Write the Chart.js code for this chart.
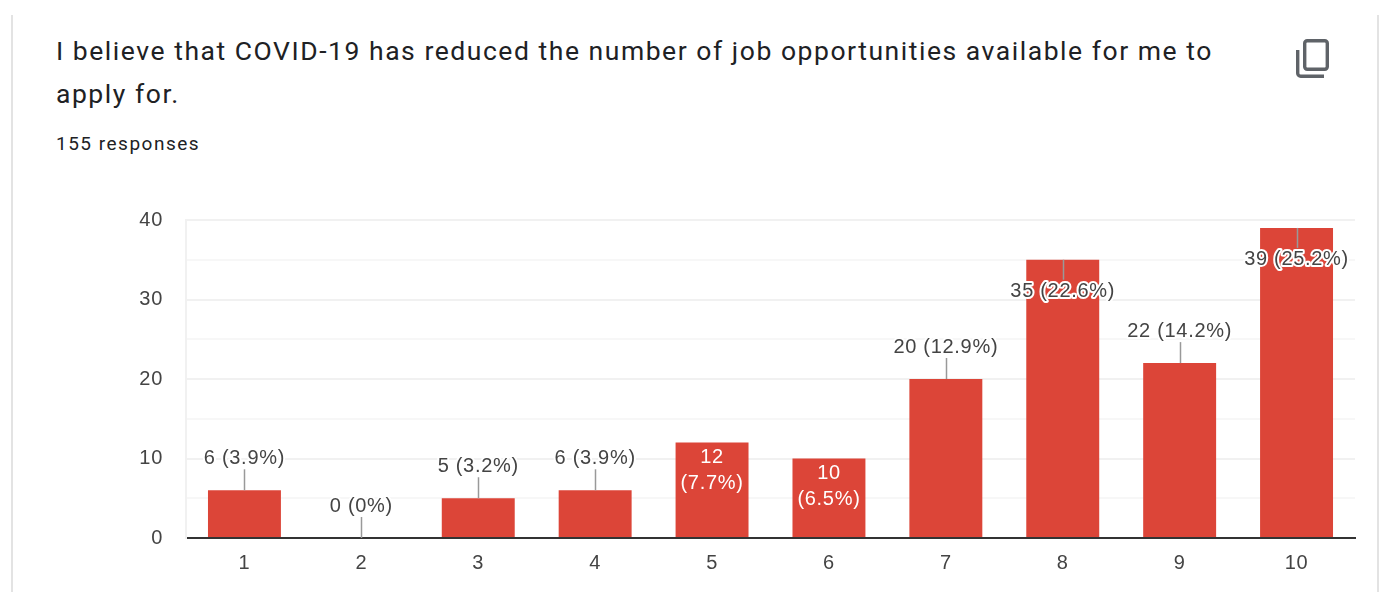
<!DOCTYPE html>
<html>
<head>
<meta charset="utf-8">
<title>COVID-19 job opportunities</title>
<script src="https://cdn.jsdelivr.net/npm/chart.js@4"></script>
<style>
  html, body { margin: 0; padding: 0; background: #fff; overflow: hidden; }
  #page { position: relative; width: 1381px; height: 592px; font-family: Roboto, sans-serif; color: #202124; }
  #card { position: absolute; left: 11px; top: 15px; width: 1364px; height: 577px; border-left: 2px solid #e3e3e3; border-right: 2px solid #e3e3e3; }
  #question { position: absolute; left: 56px; top: 29px; width: 1175px; font-size: 26.5px; line-height: 43px; letter-spacing: 1.54px; }
  #count { position: absolute; left: 56px; top: 132px; font-size: 19px; line-height: 24px; letter-spacing: 1.5px; }
  #copy { position: absolute; left: 1293px; top: 38px; }
  #chart { position: absolute; left: 0; top: 0; }
</style>
</head>
<body>
<div id="page">
  <div id="card"></div>
  <div id="question">I believe that COVID-19 has reduced the number of job opportunities available for me to apply for.</div>
  <div id="count">155 responses</div>
  <svg id="copy" width="40" height="42" viewBox="0 0 40 42" fill="none" stroke="#5f6368" stroke-width="3.4">
    <rect x="11.7" y="2.7" width="22.6" height="28.6" rx="2.5"></rect>
    <path d="M4.7 12V35.3a3 3 0 0 0 3 3H31"></path>
  </svg>
  <canvas id="chart" width="1381" height="592"></canvas>
</div>
<script>
const categories = ['1', '2', '3', '4', '5', '6', '7', '8', '9', '10']
const responses = [6, 0, 5, 6, 12, 10, 20, 35, 22, 39]
const percents = ['3.9', '0', '3.2', '3.9', '7.7', '6.5', '12.9', '22.6', '14.2', '25.2']
const yTicks = [0, 10, 20, 30, 40]

// the two short bars hold their label, the two tall ones hang it below the top
const wrappedInside = ['5', '6']
const hungBelow = ['8', '10']

const axisFont = '"Liberation Sans", Arial, sans-serif'

const barLabels = {
  id: 'barLabels',
  beforeDraw(chart) {
    chart.ctx.letterSpacing = '0.7px'
  },
  afterDatasetsDraw(chart) {
    const ctx = chart.ctx
    const meta = chart.getDatasetMeta(0)
    ctx.save()
    ctx.font = '20px ' + axisFont
    ctx.textAlign = 'center'
    ctx.textBaseline = 'middle'
    ctx.lineJoin = 'round'
    meta.data.forEach((bar, i) => {
      const name = categories[i]
      const x = bar.x
      const top = bar.y
      if (wrappedInside.includes(name)) {
        ctx.fillStyle = '#fff'
        ctx.fillText(String(responses[i]), x, top + 15)
        ctx.fillText('(' + percents[i] + '%)', x, top + 41)
        return
      }
      const text = responses[i] + ' (' + percents[i] + '%)'
      const below = hungBelow.includes(name)
      const stemEnd = below ? top + 20 : top - 21
      const textY = below ? top + 32 : top - 32
      ctx.strokeStyle = '#999'
      ctx.lineWidth = 1.5
      ctx.beginPath()
      ctx.moveTo(Math.round(x) + 0.5, top)
      ctx.lineTo(Math.round(x) + 0.5, stemEnd)
      ctx.stroke()
      ctx.strokeStyle = '#fff'
      ctx.lineWidth = 4
      ctx.strokeText(text, x, textY)
      ctx.fillStyle = '#444'
      ctx.fillText(text, x, textY)
    })
    ctx.restore()
  }
}

new Chart(document.getElementById('chart').getContext('2d'), {
  type: 'bar',
  data: {
    labels: categories,
    datasets: [{
      data: responses,
      backgroundColor: '#dc4538',
      barPercentage: 0.624,
      categoryPercentage: 1
    }]
  },
  options: {
    responsive: false,
    animation: false,
    layout: { padding: { left: 0, right: 26, top: 220, bottom: 4 } },
    plugins: { legend: { display: false }, tooltip: { enabled: false } },
    scales: {
      x: {
        grid: { display: false, drawTicks: false },
        border: { color: '#333', width: 2 },
        ticks: {
          color: '#444',
          padding: 13,
          maxRotation: 0,
          font: { family: axisFont, size: 20 }
        }
      },
      y: {
        min: 0,
        max: 40,
        afterFit(scale) { scale.width = 186 },
        afterBuildTicks(scale) {
          // minor lines halfway between the labelled ones
          const all = []
          yTicks.forEach((v, i) => {
            all.push({ value: v })
            if (i < yTicks.length - 1) all.push({ value: (v + yTicks[i + 1]) / 2 })
          })
          scale.ticks = all
        },
        grid: {
          drawTicks: false,
          lineWidth: 2,
          color: c => (c.tick && yTicks.includes(c.tick.value) ? '#f1f1f1' : '#f7f7f7')
        },
        border: { color: '#f1f1f1', width: 2 },
        ticks: {
          color: '#444',
          padding: 23,
          font: { family: axisFont, size: 20 },
          callback: v => (yTicks.includes(v) ? String(v) : '')
        }
      }
    }
  },
  plugins: [barLabels]
})
</script>
</body>
</html>
